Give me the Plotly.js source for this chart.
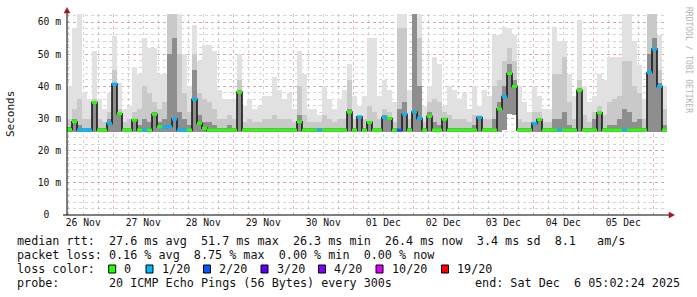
<!DOCTYPE html>
<html>
<head>
<meta charset="utf-8">
<script src="https://cdn.plot.ly/plotly-3.0.1.min.js"></script>
<style>html,body{margin:0;padding:0;background:#fff;}#chart{width:697px;height:297px;}</style>
</head>
<body>
<div id="chart"></div>
<script>
// ---- data (2-hour bins, 10 days, values in ms) ----
const binStartUTC = Date.UTC(2025, 10, 26, 5, 29); // first bin start
const binHours = 2;
const smokeMax = [40,58,62.5,38,36,51,36,33,38,55.6,41,33,34,46,44,55,52,52,44,44,62.5,62.5,62.5,50,40,59,48,53,53,51,
  39,36,36,36,50,34,36,33,34,37,37,43,39,36,38,33,51,44,33,33,31,40,36,33,36,39,47,37,34,37,
  55,55,37,42,39,35,62.5,62.5,39,62.5,62.5,34,40,49,47,34,40,39,36,38,33,40,34,39,37,56,56,58.5,58,56,
  40,35,32,40,37,33,33,58.5,54,54,44,37,60.6,40,35,37,44,42,49,49,49,62.5,62.5,54,46.5,36,62.5,62.5,56,40];
const smokeMid = [30,33,36,30,30,36,30,29,32,45,33,29,30,32,33,40,38,35,33,35,62.5,62.5,50,38,32,50,38,36,35,33,
  30,30,31,30,42,29,30,29,29,30,30,31,30,30,30,29,40,31,29,29,29,31,30,29,30,30,42,30,31,30,
  34,32,30,33,32,29,58,58,30,62.5,55,29,35,36,35,32,31,30,30,30,29,31,31,30,30,40,42,48,52,48,
  30,29,29,32,32,29,29,44,44,49,35,30,42,31,29,32,34,31,35,36,37,48,48,40,38,30,62.5,62.5,45,33];
const smokeCore = [27.5,30,28,27,27,35,27,27,30,41,31.5,27,27,30,28,30,29,32,29,30,50,55,32,30,28,45,31,29,29,28,
  27,27,28,27,39,27,27,27,27,27,27,27,27,27,27,27,31,27,27,27,27,27,27,27,27,27,33,27,30.5,27,
  29,27,27,31,30.5,27,33,35,27,62.5,40,27,32,29,28,30,27,27,27,27,27,28,30.5,27,27,30,35,40,47,42,
  27,27,27,29,30,27,27,30,30,32,28,27,39.5,27,27,30,32,27,28,28,30,33,32,29,30,27,50,55,41,28];
const smokeMin = [25.9,25.9,25.9,25.9,25.9,25.9,25.9,25.9,25.9,25.9,25.9,25.9,25.9,25.9,25.9,25.9,25.9,25.9,25.9,25.9,25.9,25.9,25.9,25.9,25.9,25.9,25.9,25.9,25.9,25.9,
  25.9,25.9,25.9,25.9,25.9,25.9,25.9,25.9,25.9,25.9,25.9,25.9,25.9,25.9,25.9,25.9,25.9,25.9,25.9,25.9,25.9,25.9,25.9,25.9,25.9,25.9,25.9,25.9,25.9,25.9,
  25.9,25.9,25.9,25.9,25.9,25.9,25.9,25.9,25.9,25.9,25.9,25.9,25.9,25.9,25.9,25.9,25.9,25.9,25.9,25.9,25.9,25.9,25.9,25.9,25.9,25.9,25.9,26.5,31.5,31,
  25.9,25.9,25.9,25.9,25.9,25.9,25.9,25.9,25.9,25.9,25.9,25.9,25.9,25.9,25.9,25.9,25.9,25.9,25.9,25.9,25.9,25.9,25.9,25.9,25.9,25.9,25.9,25.9,25.9,25.9];
const median = [26.6,29,26.4,26.4,26.4,35,26.4,26.4,28.5,40.7,31.5,26.4,26.4,29.5,26.4,26.4,26.4,31.3,27.4,27.2,27.5,29.8,26.4,26.4,26.4,36,28.5,27,26.4,26.4,
  26.4,26.4,26.4,26.4,38.2,26.4,26.4,26.4,26.4,26.4,26.4,26.4,26.4,26.4,26.4,26.4,29,26.4,26.4,26.4,26.4,26.4,26.4,26.4,26.4,26.4,32,26.4,30.5,26.4,
  28.8,26.4,26.4,30.3,30,26.4,26.4,31.3,26.4,32,30,26.4,30.7,26.4,26.4,29.8,26.4,26.4,26.4,26.4,26.4,26.4,30.3,26.4,26.4,26.4,33,36.8,44,40,
  26.4,26.4,26.4,28.5,29.7,26.4,26.4,26.4,26.4,26.4,26.4,26.4,38.8,26.4,26.4,26.4,31.8,26.4,26.4,26.4,26.4,26.4,26.4,26.4,26.4,26.4,44.3,51.6,40,26.4];
const lossCount = [0,0,1,1,1,0,0,0,1,1,0,0,0,0,0,1,0,0,0,1,1,1,1,1,0,1,0,0,0,0,
  0,0,0,0,0,0,0,0,0,0,0,0,0,0,0,0,0,0,0,0,1,0,0,0,0,0,0,0,1,0,
  0,0,0,1,0,0,2,1,0,1,1,0,0,0,0,0,0,0,0,0,0,0,1,0,0,0,0,1,0,0,
  0,0,0,1,0,0,0,0,1,0,0,0,0,0,0,0,0,0,0,0,0,1,0,0,0,0,1,1,1,0];
const lossLevels = [0, 1, 2, 3, 4, 10, 19];
const lossLabels = ['0', '1/20', '2/20', '3/20', '4/20', '10/20', '19/20'];
const lossColors = ['#26ff00', '#00b8ff', '#0059ff', '#5e00ff', '#7e00ff', '#dd00ff', '#ff0000'];
const yTickVals = [0, 10, 20, 30, 40, 50, 60];
const yTickText = ['0  ', '10 m', '20 m', '30 m', '40 m', '50 m', '60 m'];
const legendLines = [
  'median rtt:  27.6 ms avg  51.7 ms max  26.3 ms min  26.4 ms now  3.4 ms sd  8.1   am/s',
  'packet loss: 0.16 % avg  8.75 % max  0.00 % min  0.00 % now',
  'loss color:',
  'probe:       20 ICMP Echo Pings (56 Bytes) every 300s'
];
const endText = 'end: Sat Dec  6 05:02:24 2025';
const watermark = 'RRDTOOL / TOBI OETIKER';

// ---- build ----
const HOUR = 3600000, binMs = binHours * HOUR;
const n = median.length;
const tStart = [], tMid = [];
for (let i = 0; i < n; i++) { tStart.push(binStartUTC + i * binMs); tMid.push(binStartUTC + i * binMs + binMs / 2); }
const tEnd = binStartUTC + n * binMs;

function smokeBar(top, color) {
  return { type: 'bar', x: tMid, base: smokeMin, y: top.map((v, i) => v - smokeMin[i]), width: binMs,
    marker: { color: color, line: { width: 0 } }, hoverinfo: 'skip', showlegend: false };
}
const traces = [
  smokeBar(smokeMax, '#e1e1e1'),
  smokeBar(smokeMid, '#c9c9c9'),
  smokeBar(smokeCore, '#8e8e8e'),
  { type: 'scatter', mode: 'lines', x: tStart.concat([tEnd]), y: median.concat([median[n - 1]]),
    line: { shape: 'hv', color: '#1a1a1a', width: 1.6 }, hoverinfo: 'skip', showlegend: false }
];
lossLevels.forEach((lv, k) => {
  const xs = [], ys = [];
  for (let i = 0; i < n; i++) {
    if (lossCount[i] === lv) { xs.push(tStart[i], tStart[i] + binMs, null); ys.push(median[i], median[i], null); }
  }
  if (xs.length) traces.push({ type: 'scatter', mode: 'lines', x: xs, y: ys,
    line: { color: lossColors[k], width: 3 }, hoverinfo: 'skip', showlegend: false, connectgaps: false });
});

// pixel -> paper helpers (plot area: x 67..667, y 14..215)
const L = 67, R = 667, T = 14, B = 215;
const px = x => (x - L) / (R - L);
const py = y => (B - y) / (B - T);
const nb = s => s.replace(/ /g, '\u00a0');
const mono = 'DejaVu Sans Mono, monospace';
const legendFont = { family: mono, size: 11.75, color: '#111' };

const annotations = [];
const lineY = [240.7, 255, 269, 283.3];
legendLines.forEach((s, i) => annotations.push({ xref: 'paper', yref: 'paper', x: px(15), y: py(lineY[i]),
  xanchor: 'left', yanchor: 'middle', showarrow: false, text: nb(s), font: legendFont }));
annotations.push({ xref: 'paper', yref: 'paper', x: px(682), y: py(lineY[3]), xanchor: 'right', yanchor: 'middle',
  showarrow: false, text: nb(endText), font: legendFont });
const sqX = [108.7, 146, 203.5, 261, 318.5, 376, 441.5];
const shapes = [];
sqX.forEach((x, k) => {
  shapes.push({ type: 'rect', xref: 'paper', yref: 'paper', x0: px(x), x1: px(x + 7), y0: py(273), y1: py(265),
    line: { color: '#000', width: 1 }, fillcolor: lossColors[k] });
  annotations.push({ xref: 'paper', yref: 'paper', x: px(x + 13.5), y: py(lineY[2]), xanchor: 'left', yanchor: 'middle',
    showarrow: false, text: nb(lossLabels[k]), font: legendFont });
});
annotations.push({ xref: 'paper', yref: 'paper', x: px(11), y: py(114), xanchor: 'center', yanchor: 'middle',
  showarrow: false, textangle: -90, text: 'Seconds', font: { family: mono, size: 11, color: '#111' } });
annotations.push({ xref: 'paper', yref: 'paper', x: px(688), y: py(60), xanchor: 'center', yanchor: 'middle',
  showarrow: false, textangle: 90, text: nb(watermark), font: { family: mono, size: 8, color: '#b4b4b4' } });

// axis extensions and arrows
shapes.push({ type: 'line', xref: 'paper', yref: 'paper', x0: 0, x1: 0, y0: py(B), y1: py(10), line: { color: '#000', width: 1 } });
shapes.push({ type: 'line', xref: 'paper', yref: 'paper', x0: px(63), x1: px(672), y0: 0, y1: 0, line: { color: '#000', width: 1 } });
shapes.push({ type: 'path', xref: 'paper', yref: 'paper', fillcolor: '#a01818', line: { color: '#a01818', width: 0.5 },
  path: `M ${px(64)},${py(13)} L ${px(70)},${py(13)} L ${px(67)},${py(7.5)} Z` });
shapes.push({ type: 'path', xref: 'paper', yref: 'paper', fillcolor: '#a01818', line: { color: '#a01818', width: 0.5 },
  path: `M ${px(669)},${py(212)} L ${px(669)},${py(218)} L ${px(674.5)},${py(215)} Z` });

const layout = {
  width: 697, height: 297,
  margin: { l: L, r: 697 - R, t: T, b: 297 - B, pad: 0 },
  paper_bgcolor: '#ffffff', plot_bgcolor: '#ffffff',
  barmode: 'overlay', bargap: 0, showlegend: false,
  xaxis: {
    type: 'date', range: [binStartUTC, binStartUTC + 240 * HOUR], fixedrange: true,
    tick0: Date.UTC(2025, 10, 26), dtick: 86400000, ticklabelmode: 'period', tickformat: '%d %b',
    ticks: '', showgrid: true, gridcolor: 'rgba(220,120,120,0.5)', griddash: 'dot', gridwidth: 1,
    showline: false, zeroline: false,
    tickfont: { family: mono, size: 9.7, color: '#111' },
    minor: { tick0: Date.UTC(2025, 10, 26), dtick: 6 * HOUR, showgrid: true, gridcolor: 'rgba(170,170,170,0.5)', griddash: 'dot', gridwidth: 1 }
  },
  yaxis: {
    range: [0, 62.5], fixedrange: true, tickmode: 'array', tickvals: yTickVals, ticktext: yTickText.map(nb),
    ticks: '', ticklabelstandoff: 5, showgrid: true, gridcolor: 'rgba(220,120,120,0.5)', griddash: 'dot', gridwidth: 1,
    showline: false, zeroline: false,
    tickfont: { family: mono, size: 9.7, color: '#111' },
    minor: { tick0: 0, dtick: 2, showgrid: true, gridcolor: 'rgba(170,170,170,0.5)', griddash: 'dot', gridwidth: 1 }
  },
  annotations: annotations, shapes: shapes
};
Plotly.newPlot('chart', traces, layout, { staticPlot: true, displayModeBar: false });
</script>
</body>
</html>
